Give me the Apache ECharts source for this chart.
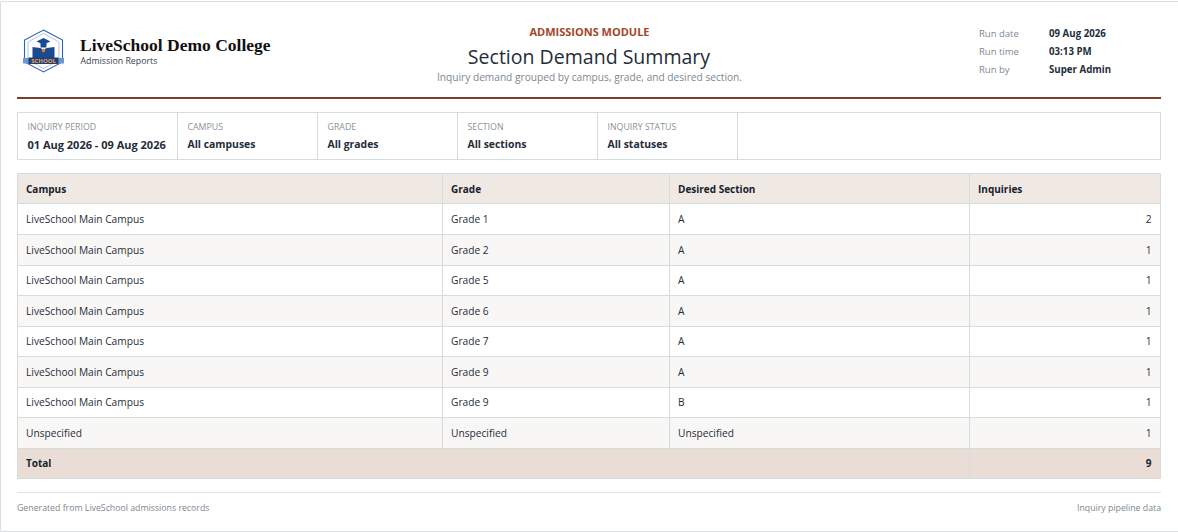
<!DOCTYPE html>
<html><head><meta charset="utf-8">
<script src="https://cdn.jsdelivr.net/npm/echarts@6/dist/echarts.min.js"></script>
<style>html,body{margin:0;padding:0;background:#fff;overflow:hidden}#c{width:1178px;height:532px}</style>
</head><body><div id="c"></div>
<script>
const collegeName = 'LiveSchool Demo College';
const collegeSub = 'Admission Reports';
const moduleName = 'ADMISSIONS MODULE';
const reportTitle = 'Section Demand Summary';
const reportSub = 'Inquiry demand grouped by campus, grade, and desired section.';
const runLabels = ['Run date', 'Run time', 'Run by'];
const runValues = ['09 Aug 2026', '03:13 PM', 'Super Admin'];
const filterLabels = ['INQUIRY PERIOD', 'CAMPUS', 'GRADE', 'SECTION', 'INQUIRY STATUS'];
const filterValues = ['01 Aug 2026 - 09 Aug 2026', 'All campuses', 'All grades', 'All sections', 'All statuses'];
const headers = ['Campus', 'Grade', 'Desired Section', 'Inquiries'];
const campuses = ['LiveSchool Main Campus','LiveSchool Main Campus','LiveSchool Main Campus','LiveSchool Main Campus','LiveSchool Main Campus','LiveSchool Main Campus','LiveSchool Main Campus','Unspecified'];
const grades = ['Grade 1','Grade 2','Grade 5','Grade 6','Grade 7','Grade 9','Grade 9','Unspecified'];
const sections = ['A','A','A','A','A','A','B','Unspecified'];
const inquiries = [2,1,1,1,1,1,1,1];
const totalLabel = 'Total';
const totalValue = 9;
const footerLeft = 'Generated from LiveSchool admissions records';
const footerRight = 'Inquiry pipeline data';

const FONT = '"Open Sans","Noto Sans",sans-serif';
const BORDER = '#d5dcdc', INK = '#1f2d3a', MUTED = '#7d8790';
const colEdges = [0, 425.5, 652.5, 952.5, 1143.5];
const filterEdges = [17.5, 177.5, 317.5, 457.5, 597.5, 737.5, 1160.5];

const rowNames = ['head', ...campuses.map((_, i) => 'r' + i), 'total'];
const cells = [];
headers.forEach((h, c) => cells.push({ x0: colEdges[c], x1: colEdges[c + 1], row: 0, text: h, fill: '#f0e8e2', bold: true }));
campuses.forEach((_, r) => {
  const fill = r % 2 ? '#f9f7f5' : '#ffffff';
  [campuses[r], grades[r], sections[r]].forEach((t, c) => cells.push({ x0: colEdges[c], x1: colEdges[c + 1], row: r + 1, text: t, fill }));
  cells.push({ x0: colEdges[3], x1: colEdges[4], row: r + 1, text: String(inquiries[r]), fill, right: true });
});
cells.push({ x0: colEdges[0], x1: colEdges[3], row: 9, text: totalLabel, fill: '#e9ddd5', bold: true });
cells.push({ x0: colEdges[3], x1: colEdges[4], row: 9, text: String(totalValue), fill: '#e9ddd5', bold: true, right: true });

function renderCell(params, api) {
  const d = cells[params.dataIndex];
  const a = api.coord([d.x0, d.row]);
  const b = api.coord([d.x1, d.row]);
  const h = api.size([0, 1])[1];
  const top = Math.floor(a[1] - h / 2) + 0.5;
  const bot = Math.floor(a[1] + h / 2) + 0.5;
  const x0 = Math.floor(a[0]) + 0.5, x1 = Math.floor(b[0]) + 0.5;
  return {
    type: 'group',
    children: [
      { type: 'rect', shape: { x: x0, y: top, width: x1 - x0, height: bot - top }, style: { fill: d.fill, stroke: BORDER, lineWidth: 1 } },
      { type: 'text', style: {
          x: d.right ? x1 - 9 : x0 + 8.5, y: Math.round(a[1] - 0.15), text: d.text,
          align: d.right ? 'right' : 'left', verticalAlign: 'middle',
          fill: d.bold ? '#16222c' : INK, font: (d.bold ? '700 10px ' : '400 10.2px ') + FONT } }
    ]
  };
}

const T = (x, y, text, font, fill, align) => ({ type: 'text', silent: true, style: { x, y, text, font: font + ' ' + FONT, fill, align: align || 'left', verticalAlign: 'middle' } });
const g = [];
// page frame
g.push({ type: 'rect', shape: { x: 0.5, y: 1.5, width: 1178, height: 530 }, style: { fill: 'none', stroke: '#d9dfe3', lineWidth: 1 } });
// logo
const blue = '#2f62ad', navy = '#1c4a92', org = '#e2872f';
g.push({ type: 'group', x: 43.5, y: 51, children: [
  { type: 'polygon', shape: { points: [[0,-21],[19,-11],[19,11],[0,21],[-19,11],[-19,-11]] }, style: { fill: '#fff', stroke: blue, lineWidth: 1.1 } },
  { type: 'polygon', shape: { points: [[0,-17.5],[15.5,-9],[15.5,9],[0,17.5],[-15.5,9],[-15.5,-9]] }, style: { fill: 'none', stroke: '#9db9de', lineWidth: 0.8 } },
  { type: 'polygon', shape: { points: [[0,-13],[7,-9.5],[0,-6.5],[-7,-9.5]] }, style: { fill: navy } },
  { type: 'rect', shape: { x: -3, y: -8, width: 6, height: 4.5 }, style: { fill: navy } },
  { type: 'polygon', shape: { points: [[-11,-4],[-3,-3],[0,-1],[3,-3],[11,-4],[11,7],[-11,7]] }, style: { fill: navy } },
  { type: 'circle', shape: { cx: 0, cy: -0.5, r: 1.7 }, style: { fill: org } },
  { type: 'rect', shape: { x: -20.5, y: 7, width: 41, height: 5.5 }, style: { fill: '#6f97cf' } },
  { type: 'rect', shape: { x: -15, y: 6.5, width: 30, height: 6.5 }, style: { fill: '#1f3f78' } },
  { type: 'text', style: { x: 0, y: 9.8, text: 'SCHOOL', align: 'center', verticalAlign: 'middle', font: '700 6px ' + FONT, fill: '#e9a04f' } }
]});
g.push(T(80, 44.5, collegeName, '700 17.5px "Liberation Serif",', '#111'));
g.push(T(80.5, 60.5, collegeSub, '400 8.8px', '#35424d'));
g.push(T(589.5, 31.5, moduleName, '700 11px', '#a2472a', 'center'));
g.push(T(589, 56, reportTitle, '500 19.55px', INK, 'center'));
g.push(T(589.5, 76.5, reportSub, '400 10.17px', MUTED, 'center'));
runLabels.forEach((l, i) => {
  g.push(T(979, 33.5 + i * 18, l, '400 9.5px', MUTED));
  g.push(T(1049, 33.5 + i * 18, runValues[i], '700 9.7px', INK));
});
g.push({ type: 'rect', shape: { x: 17, y: 97, width: 1144, height: 2 }, style: { fill: '#7a3f2a' } });
// filter bar
g.push({ type: 'rect', shape: { x: 17.5, y: 112.5, width: 1143, height: 47 }, style: { fill: '#fff', stroke: BORDER, lineWidth: 1 } });
filterLabels.forEach((l, i) => {
  const x = filterEdges[i];
  g.push({ type: 'line', shape: { x1: filterEdges[i + 1], y1: 112.5, x2: filterEdges[i + 1], y2: 159.5 }, style: { stroke: BORDER, lineWidth: 1 } });
  g.push(T(x + 10, 126.5, l, '400 8.8px', '#8a9299'));
  g.push(T(x + 10, 144, filterValues[i], i === 0 ? '700 11px' : '700 10.4px', INK));
});
// footer
g.push({ type: 'line', shape: { x1: 17, y1: 492.5, x2: 1161, y2: 492.5 }, style: { stroke: '#dfe5e5', lineWidth: 1 } });
g.push(T(17, 507.5, footerLeft, '400 8.75px', MUTED));
g.push(T(1161, 507.5, footerRight, '400 8.75px', MUTED, 'right'));

const chart = echarts.init(document.getElementById('c'), null, { renderer: 'svg' });
chart.setOption({
  animation: false,
  backgroundColor: '#fff',
  tooltip: { show: false },
  grid: { left: 17, top: 173.4, width: 1144, height: 305.5, containLabel: false },
  xAxis: { type: 'value', min: 0, max: 1144, show: false },
  yAxis: { type: 'category', data: rowNames, inverse: true, show: false },
  graphic: { elements: g },
  series: [{
    type: 'custom', coordinateSystem: 'cartesian2d', silent: true,
    encode: { x: [0, 2], y: 1 },
    renderItem: renderCell,
    data: cells.map(c => [c.x0, c.row, c.x1])
  }]
});
</script></body></html>
